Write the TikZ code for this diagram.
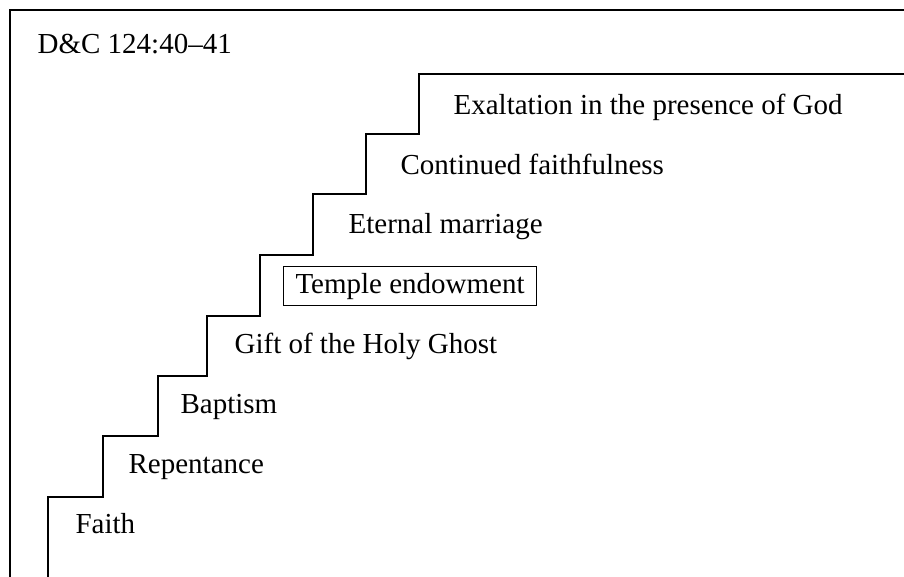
\documentclass[tikz,border=0pt]{standalone}
\usepackage{fontspec}
\setmainfont{Liberation Serif}

\tikzset{
    stage/.style={anchor=base west, inner sep=0pt, font=\fontsize{14.5}{17}\selectfont},
    keystage/.style={stage, draw, line width=0.5pt, inner xsep=6pt, inner ysep=3pt},
}

\begin{document}
\begin{tikzpicture}[x=0.5pt, y=-0.5pt, line width=0.6pt]
    \useasboundingbox (0, 0) rectangle (904, 577);

    % frame
    \draw (10, 590) -- (10, 10) -- (915, 10);

    % steps
    \draw (48, 590) -- (48, 497) -- (103, 497) -- (103, 436) -- (158, 436)
        -- (158, 376) -- (207, 376) -- (207, 316) -- (260, 316) -- (260, 255)
        -- (313, 255) -- (313, 194) -- (366, 194) -- (366, 134) -- (419, 134)
        -- (419, 74) -- (915, 74);

    \node[stage] (ref) at (37, 54) {D\&C 124:40--41};

    \node[stage] (faith) at (75, 533) {Faith};
    \node[stage] (repentance) at (128, 473) {Repentance};
    \node[stage] (baptism) at (180, 413) {Baptism};
    \node[stage] (gift) at (234, 353) {Gift of the Holy Ghost};
    \node[keystage] (endowment) at (283, 293) {Temple endowment};
    \node[stage] (marriage) at (348, 234) {Eternal marriage};
    \node[stage] (continued) at (400, 175) {Continued faithfulness};
    \node[stage] (exaltation) at (453, 115) {Exaltation in the presence of God};
\end{tikzpicture}
\end{document}
